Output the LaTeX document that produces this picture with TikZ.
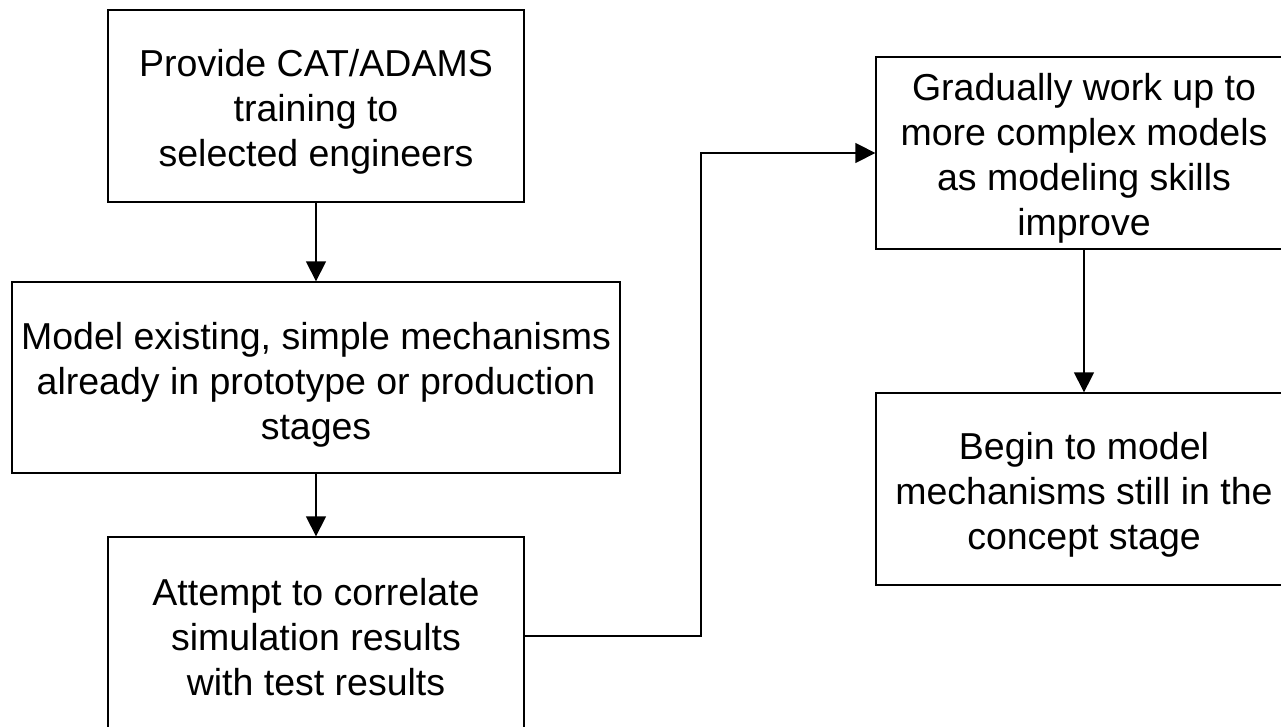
\documentclass[tikz,border=0pt]{standalone}
\usepackage{fontspec}
\setmainfont{Liberation Sans}
\usetikzlibrary{arrows.meta}
\begin{document}
\begin{tikzpicture}[x=1pt,y=-1pt,
  box/.style={draw=black, line width=1.3pt, fill=white, inner sep=0pt},
  txt/.style={align=center, inner sep=0pt, font=\fontsize{37.5}{45}\selectfont},
  conn/.style={draw=black, line width=1.3pt, -{Triangle[length=20pt,width=20pt]}}]
\useasboundingbox (0,0) rectangle (1281,727);
\clip (0,0) rectangle (1281,727);
\fill[white] (0,0) rectangle (1281,727);
\node[box, minimum width=416pt, minimum height=192pt] (a) at (316,106) {};
\node[box, minimum width=608pt, minimum height=191pt] (b) at (316,377.5) {};
\node[box, minimum width=416pt, minimum height=198pt] (c) at (316,636) {};
\node[box, minimum width=416pt, minimum height=192pt] (d) at (1084,153) {};
\node[box, minimum width=416pt, minimum height=192pt] (e) at (1084,489) {};
\node[txt] (at) at ([yshift=-6pt]a.center) {Provide CAT/ADAMS\\training to\\selected engineers};
\node[txt] (bt) at ([yshift=-7pt]b.center) {Model existing, simple mechanisms\\already in prototype or production\\stages};
\node[txt] (ct) at ([yshift=-1.5pt]c.center) {Attempt to correlate\\simulation results\\with test results};
\node[txt] (dt) at ([yshift=-5.5pt]d.center) {Gradually work up to\\more complex models\\as modeling skills\\improve};
\node[txt] (et) at ([yshift=-6pt]e.center) {Begin to model\\mechanisms still in the\\concept stage};
\coordinate (k1) at (701,636);
\coordinate (k2) at (701,153);
\draw[conn] (a.south) -- (b.north);
\draw[conn] (b.south) -- (c.north);
\draw[conn] (c.east) -- (k1) -- (k2) -- (d.west);
\draw[conn] (d.south) -- (e.north);
\end{tikzpicture}
\end{document}
